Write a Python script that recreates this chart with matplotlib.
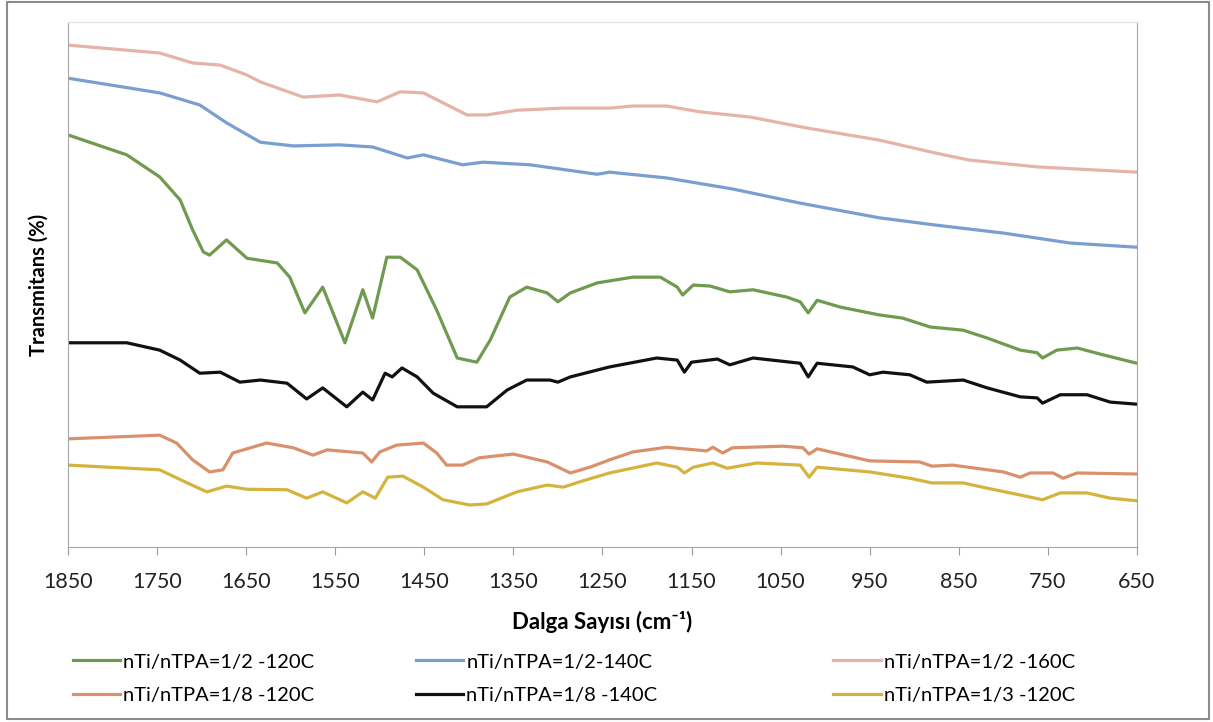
import matplotlib.pyplot as plt
from matplotlib.patches import Rectangle

plt.rcParams["font.family"] = ["Lato", "DejaVu Sans"]

# wavenumber (cm-1) and transmittance (arbitrary %)
wn_160 = [1850, 1747, 1710, 1679, 1649, 1634, 1586, 1545, 1503, 1477, 1451, 1402,
          1380, 1346, 1294, 1242, 1216, 1178, 1141, 1084, 1020, 939, 875, 838, 762, 650]
t_160 = [95.6, 94.1, 92.2, 91.8, 89.9, 88.6, 85.7, 86.1, 84.8, 86.7, 86.5, 82.3,
         82.3, 83.2, 83.6, 83.6, 84.0, 84.0, 82.9, 81.9, 79.8, 77.5, 75.0, 73.7, 72.4, 71.4]

wn_140 = [1850, 1747, 1702, 1672, 1634, 1597, 1545, 1508, 1469, 1451, 1407, 1384,
          1331, 1256, 1242, 1178, 1104, 1028, 939, 875, 800, 725, 650]
t_140 = [89.3, 86.5, 84.2, 80.8, 77.1, 76.4, 76.6, 76.2, 74.1, 74.7, 72.8, 73.3,
         72.8, 71.0, 71.4, 70.3, 68.2, 65.5, 62.7, 61.3, 59.8, 57.9, 57.1]

wn_120 = [1850, 1784, 1747, 1724, 1710, 1698, 1691, 1672, 1649, 1615, 1601, 1584,
          1564, 1539, 1519, 1508, 1492, 1477, 1458, 1436, 1413, 1391, 1376, 1354,
          1335, 1312, 1300, 1286, 1256, 1216, 1185, 1166, 1160, 1148, 1129, 1107,
          1081, 1043, 1028, 1019, 1009, 983, 939, 913, 882, 845, 818, 781, 762,
          756, 740, 717, 688, 650]
t_120 = [78.5, 74.7, 70.5, 66.1, 60.4, 56.2, 55.6, 58.5, 55.0, 54.1, 51.4, 44.6,
         49.5, 38.9, 49.0, 43.6, 55.2, 55.2, 52.8, 45.1, 36.0, 35.2, 39.4, 47.6,
         49.5, 48.4, 46.7, 48.4, 50.3, 51.4, 51.4, 49.5, 48.0, 49.9, 49.7, 48.6,
         49.0, 47.6, 46.7, 44.6, 47.0, 45.7, 44.2, 43.6, 41.9, 41.3, 39.8, 37.5, 37.0,
         36.0, 37.5, 37.9, 36.6, 35.0]

wn_18_140 = [1850, 1784, 1747, 1724, 1702, 1679, 1657, 1634, 1604, 1582, 1564, 1537,
             1519, 1508, 1494, 1486, 1475, 1458, 1440, 1413, 1380, 1357, 1335, 1309,
             1300, 1286, 1242, 1189, 1166, 1158, 1150, 1121, 1107, 1081, 1028, 1019,
             1009, 969, 950, 935, 905, 886, 845, 818, 781, 762, 756, 736, 706, 680, 650]
t_18_140 = [38.9, 38.9, 37.5, 35.6, 33.1, 33.3, 31.4, 31.8, 31.2, 28.2, 30.3, 26.7,
            29.5, 28.0, 33.1, 32.4, 34.1, 32.4, 29.3, 26.7, 26.7, 29.9, 31.8, 31.8,
            31.4, 32.4, 34.3, 36.0, 35.6, 33.3, 35.2, 35.8, 34.7, 36.0, 35.0, 32.4,
            35.0, 34.3, 32.8, 33.3, 32.8, 31.4, 31.8, 30.3, 28.6, 28.4, 27.4, 29.0,
            29.0, 27.6, 27.2]

wn_18_120 = [1850, 1747, 1728, 1710, 1691, 1676, 1665, 1627, 1597, 1575, 1559, 1519,
             1509, 1500, 1481, 1451, 1436, 1425, 1407, 1388, 1350, 1312, 1286, 1264,
             1242, 1216, 1178, 1133, 1126, 1115, 1104, 1047, 1025, 1018, 1009, 950,
             894, 880, 857, 800, 781, 770, 744, 733, 717, 650]
t_18_120 = [20.6, 21.3, 19.8, 16.6, 14.3, 14.7, 17.9, 19.8, 18.9, 17.5, 18.5, 17.9,
            16.2, 18.1, 19.4, 19.8, 17.9, 15.6, 15.6, 17.0, 17.7, 16.2, 14.1, 15.2,
            16.6, 18.1, 19.0, 18.3, 19.0, 17.9, 18.9, 19.2, 18.9, 17.7, 18.7, 16.4,
            16.2, 15.4, 15.6, 14.3, 13.3, 14.1, 14.1, 13.1, 14.1, 13.9]

wn_13_120 = [1850, 1747, 1716, 1694, 1672, 1649, 1604, 1582, 1564, 1537, 1519, 1505,
             1491, 1474, 1451, 1429, 1399, 1380, 1346, 1312, 1294, 1272, 1242, 1189,
             1166, 1158, 1148, 1126, 1110, 1077, 1028, 1018, 1009, 950, 905, 880,
             845, 818, 781, 756, 736, 706, 680, 650]
t_13_120 = [15.6, 14.7, 12.2, 10.5, 11.6, 11.0, 10.9, 9.3, 10.5, 8.4, 10.5, 9.3,
            13.3, 13.5, 11.4, 9.0, 8.0, 8.2, 10.5, 11.8, 11.4, 12.6, 14.1, 16.0,
            15.2, 14.1, 15.2, 16.0, 15.0, 16.0, 15.6, 13.3, 15.2, 14.3, 13.1, 12.2,
            12.2, 11.2, 9.9, 9.0, 10.3, 10.3, 9.3, 8.8]

# legend columns as in the original (row 1 / row 2 per column)
columns = [
    [("nTi/nTPA=1/2 -120C", wn_120, t_120, "#6f9a4f"),
     ("nTi/nTPA=1/8 -120C", wn_18_120, t_18_120, "#d9906c")],
    [("nTi/nTPA=1/2-140C", wn_140, t_140, "#7a9ecf"),
     ("nTi/nTPA=1/8 -140C", wn_18_140, t_18_140, "#111111")],
    [("nTi/nTPA=1/2 -160C", wn_160, t_160, "#e6b3a8"),
     ("nTi/nTPA=1/3 -120C", wn_13_120, t_13_120, "#d4b43c")],
]
legend_x = [0.060, 0.343, 0.687]
ticks = list(range(1850, 649, -100))

fig = plt.figure(figsize=(12.13, 7.22), dpi=100)
ax = fig.add_axes([0.056, 0.2424, 0.8813, 0.7271])

col_handles = []
for col in columns:
    handles = []
    for label, wn, t, color in col:
        (line,) = ax.plot(wn, t, color=color, lw=2.3, label=label)
        handles.append(line)
    col_handles.append(handles)

ax.set_xlim(1850, 650)
ax.set_ylim(0, 100)
ax.set_xticks(ticks)
ax.set_yticks([])
ax.tick_params(axis="x", labelsize=15.5, colors="#222222", length=6,
               color="#999999", pad=12)
for side in ["left", "right", "bottom"]:
    ax.spines[side].set_color("#a6a6a6")
ax.spines["top"].set_color("#e0e0e0")

ax.set_xlabel("Dalga Sayısı (cm⁻¹)", fontsize=16, fontweight="bold", labelpad=14)
ax.set_ylabel("Transmitans (%)", fontsize=14.5, fontweight="bold", labelpad=14)

for x, handles in zip(legend_x, col_handles):
    leg = fig.legend(handles=handles, loc="upper left", bbox_to_anchor=(x, 0.095),
                     frameon=False, fontsize=14.5, handlelength=2.35,
                     handletextpad=0.15, labelspacing=0.8, borderpad=0,
                     borderaxespad=0)

fig.patches.append(Rectangle((0.006, 0.004), 0.991, 0.993, transform=fig.transFigure,
                             fill=False, edgecolor="#8c8c8c", lw=1.5))

fig.savefig("out.png", dpi=100)
